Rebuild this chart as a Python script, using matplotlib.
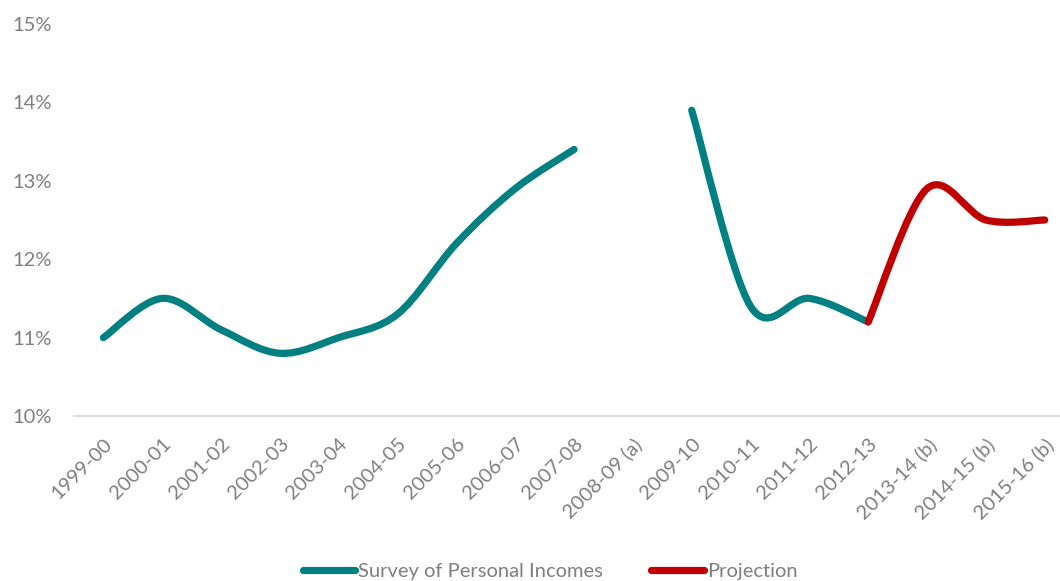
import matplotlib.pyplot as plt
from matplotlib.path import Path
from matplotlib.patches import PathPatch
from matplotlib.lines import Line2D
import numpy as np

plt.rcParams['font.family'] = ['Lato', 'DejaVu Sans']

years = ['1999-00', '2000-01', '2001-02', '2002-03', '2003-04', '2004-05',
         '2005-06', '2006-07', '2007-08', '2008-09 (a)', '2009-10', '2010-11',
         '2011-12', '2012-13', '2013-14 (b)', '2014-15 (b)', '2015-16 (b)']

# survey values, None = no data for that year
survey = [11.0, 11.5, 11.1, 10.8, 11.0, 11.3, 12.2, 12.9, 13.4, None,
          13.9, 11.4, 11.5, 11.2, None, None, None]
projection = [None] * 13 + [11.2, 12.9, 12.5, 12.5]

teal = '#008080'
red = '#C00000'
grey = '#7f7f7f'


def smooth_path(xs, ys):
    # Excel style smoothed line: cubic bezier through each point
    pts = np.column_stack([xs, ys])
    verts = [pts[0]]
    codes = [Path.MOVETO]
    n = len(pts)
    for i in range(n - 1):
        p0 = pts[i - 1] if i > 0 else pts[i]
        p1 = pts[i]
        p2 = pts[i + 1]
        p3 = pts[i + 2] if i + 2 < n else pts[i + 1]
        c1 = p1 + (p2 - p0) / 6.0
        c2 = p2 - (p3 - p1) / 6.0
        verts += [c1, c2, p2]
        codes += [Path.CURVE4] * 3
    return Path(verts, codes)


def runs(values):
    # split a series into unbroken pieces
    out, cur = [], []
    for i, v in enumerate(values):
        if v is None:
            if cur:
                out.append(cur)
            cur = []
        else:
            cur.append((i, v))
    if cur:
        out.append(cur)
    return out


fig = plt.figure(figsize=(10.6, 5.81), dpi=100)
ax = fig.add_axes([0.0698, 0.284, 0.9302, 0.6747])

for series, col in [(survey, teal), (projection, red)]:
    for seg in runs(series):
        xs = [p[0] for p in seg]
        ys = [p[1] for p in seg]
        ax.add_patch(PathPatch(smooth_path(xs, ys), fill=False, edgecolor=col,
                               lw=5.2, capstyle='round', joinstyle='round'))

ax.set_xlim(-0.5, 16.26)
ax.set_ylim(10, 15)
ax.set_yticks(range(10, 16))
ax.set_yticklabels([f'{v}%' for v in range(10, 16)])
ax.set_xticks(range(len(years)))
ax.set_xticklabels(years, rotation=45, ha='right', rotation_mode='anchor')

for s in ['top', 'right', 'left']:
    ax.spines[s].set_visible(False)
ax.spines['bottom'].set_color('#d9d9d9')
ax.spines['bottom'].set_linewidth(1.3)
ax.tick_params(axis='both', length=0, colors=grey, labelsize=14.5)
ax.tick_params(axis='y', pad=16)
ax.tick_params(axis='x', pad=14)

handles = [Line2D([], [], color=teal, lw=5.2, solid_capstyle='round'),
           Line2D([], [], color=red, lw=5.2, solid_capstyle='round')]
fig.legend(handles, ['Survey of Personal Incomes', 'Projection'],
           loc='center', bbox_to_anchor=(0.519, 0.017), ncol=2, frameon=False,
           fontsize=14.5, labelcolor=grey, handlelength=2.6, handletextpad=0.15,
           columnspacing=2.4)

fig.savefig('out.png', dpi=100)
